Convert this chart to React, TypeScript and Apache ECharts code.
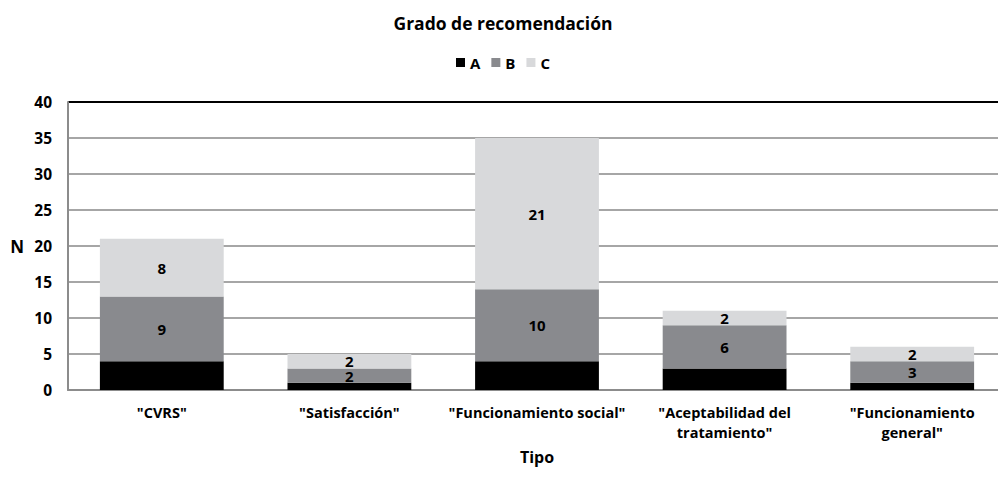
import React, { useEffect, useRef } from "react";
import * as echarts from "echarts";

const categories = [
  '"CVRS"',
  '"Satisfacción"',
  '"Funcionamiento social"',
  '"Aceptabilidad del\ntratamiento"',
  '"Funcionamiento\ngeneral"',
];
const gradeA = [4, 1, 4, 3, 1];
const gradeB = [9, 2, 10, 6, 3];
const gradeC = [8, 2, 21, 2, 2];
const yTicks = { min: 0, max: 40, interval: 5 };

const FONT = "'Open Sans', 'DejaVu Sans', sans-serif";

export default function App() {
  const ref = useRef<HTMLDivElement>(null);

  useEffect(() => {
    if (!ref.current) return;
    const chart = echarts.init(ref.current, undefined, { renderer: "svg" });
    const label = {
      show: true,
      position: "inside" as const,
      color: "#000",
      fontFamily: FONT,
      fontWeight: "bold" as const,
      fontSize: 15,
    };
    chart.setOption({
      animation: false,
      textStyle: { fontFamily: FONT },
      title: {
        text: "Grado de recomendación",
        left: "center",
        top: 9,
        textStyle: { fontFamily: FONT, fontSize: 17.5, fontWeight: "bold", color: "#000" },
      },
      legend: {
        top: 50,
        left: "center",
        itemWidth: 9,
        itemHeight: 9,
        itemGap: 11,
        icon: "rect",
        textStyle: { fontFamily: FONT, fontSize: 15, fontWeight: "bold", color: "#000" },
        data: ["A", "B", "C"],
      },
      grid: { left: 68, right: 0, top: 102, bottom: 103, containLabel: false },
      xAxis: {
        type: "category",
        data: categories,
        name: "Tipo",
        nameLocation: "middle",
        nameGap: 59,
        nameTextStyle: { fontFamily: FONT, fontSize: 16, fontWeight: "bold", color: "#000" },
        axisLine: { lineStyle: { color: "#8c8c8c", width: 2 } },
        axisTick: { show: false },
        axisLabel: {
          interval: 0,
          margin: 12,
          lineHeight: 20,
          fontFamily: FONT,
          fontSize: 14.5,
          fontWeight: "bold",
          color: "#000",
        },
      },
      yAxis: {
        type: "value",
        min: yTicks.min,
        max: yTicks.max,
        interval: yTicks.interval,
        name: "N",
        nameLocation: "middle",
        nameRotate: 0,
        nameGap: 44,
        nameTextStyle: { fontFamily: FONT, fontSize: 17, fontWeight: "bold", color: "#000" },
        axisLine: { show: true, lineStyle: { color: "#8c8c8c", width: 2 } },
        axisTick: { show: false },
        axisLabel: { margin: 16, fontFamily: FONT, fontSize: 15.5, fontWeight: "bold", color: "#000" },
        splitLine: {
          lineStyle: {
            color: ["#a6a6a6", "#a6a6a6", "#a6a6a6", "#a6a6a6", "#a6a6a6", "#a6a6a6", "#a6a6a6", "#a6a6a6", "#000"],
            width: 2,
          },
        },
      },
      series: [
        {
          name: "A",
          type: "bar",
          stack: "total",
          barWidth: "66%",
          data: gradeA,
          itemStyle: { color: "#000000" },
        },
        {
          name: "B",
          type: "bar",
          stack: "total",
          data: gradeB,
          itemStyle: { color: "#898a8e" },
          label,
        },
        {
          name: "C",
          type: "bar",
          stack: "total",
          data: gradeC,
          itemStyle: { color: "#d8d9db" },
          label,
        },
      ],
    });
    return () => chart.dispose();
  }, []);

  return <div ref={ref} style={{ width: 1006, height: 493, margin: -8 }} />;
}
